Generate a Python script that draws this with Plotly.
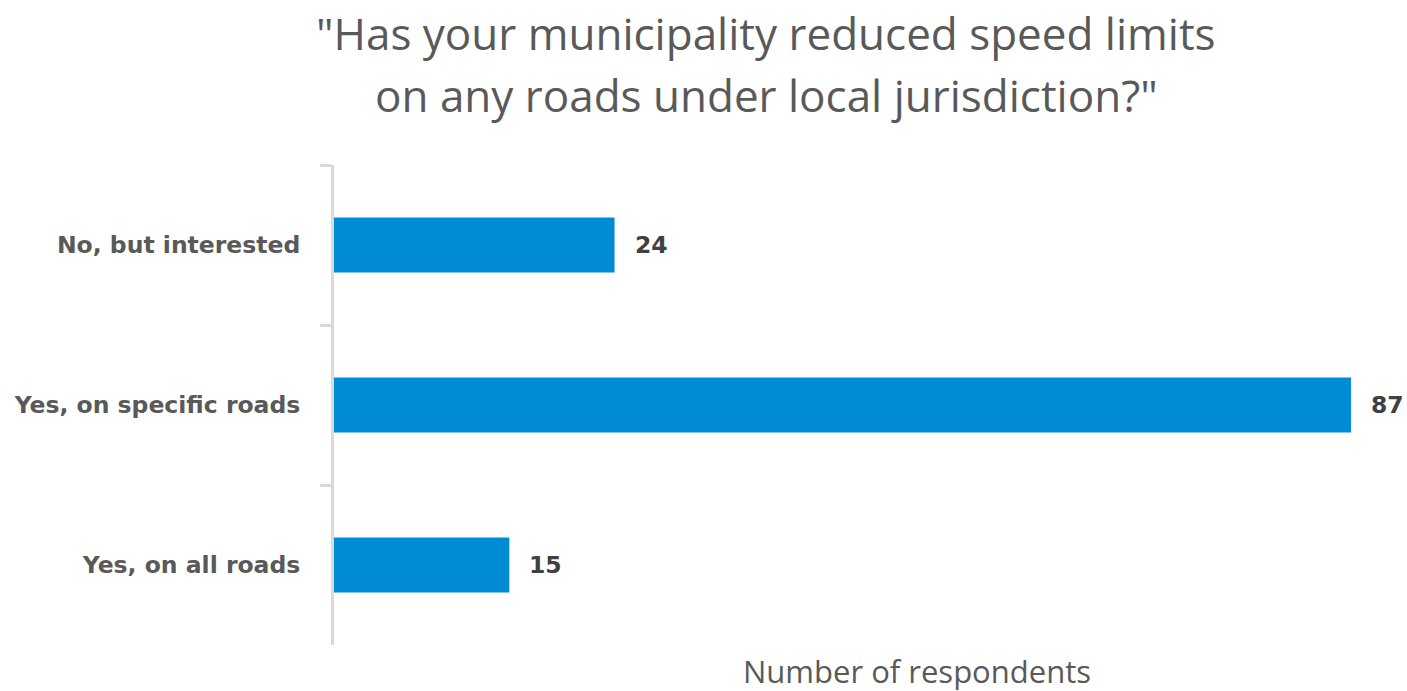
import plotly.graph_objects as go

# Survey answers, listed top to bottom
categories = ["No, but interested", "Yes, on specific roads", "Yes, on all roads"]
respondents = [24, 87, 15]

title_lines = ['"Has your municipality reduced speed limits',
               'on any roads under local jurisdiction?"']
x_title = "Number of respondents"

W, H = 1407, 691
L, R, T, B = 334, 56, 165, 46
PH = H - T - B

fig = go.Figure(
    go.Bar(
        x=respondents,
        y=categories,
        orientation="h",
        marker=dict(color="#008CD4", line=dict(width=0)),
        hoverinfo="skip",
    )
)

fig.update_layout(
    width=W,
    height=H,
    margin=dict(l=L, r=R, t=T, b=B, pad=0),
    paper_bgcolor="white",
    plot_bgcolor="white",
    bargap=0.655,
    showlegend=False,
    font=dict(family="Open Sans", color="#595959"),
)

fig.update_xaxes(
    range=[0, 87],
    showgrid=False,
    zeroline=False,
    showline=False,
    showticklabels=False,
    ticks="",
)

fig.update_yaxes(
    categoryorder="array",
    categoryarray=categories,
    autorange="reversed",
    showgrid=False,
    zeroline=False,
    showline=True,
    linecolor="#D9D9D9",
    linewidth=3,
    ticks="outside",
    tickson="boundaries",
    ticklen=11,
    tickwidth=3,
    tickcolor="#D9D9D9",
    ticklabelstandoff=26,
    tickfont=dict(family="DejaVu Sans", size=23.5, color="#595959", weight="bold"),
)

# Value labels just past the end of each bar
for cat, val in zip(categories, respondents):
    fig.add_annotation(
        x=val, y=cat,
        text=str(val),
        xanchor="left", yanchor="middle",
        xshift=18,
        showarrow=False,
        font=dict(family="DejaVu Sans", size=23.5, color="#404040", weight="bold"),
    )

# Two-line chart heading
for i, line in enumerate(title_lines):
    fig.add_annotation(
        text=line,
        xref="paper", yref="paper",
        x=(766 - L) / (W - L - R),
        y=1 + (T - (33 + 62 * i)) / PH,
        xanchor="center", yanchor="middle",
        showarrow=False,
        font=dict(family="Open Sans", size=44, color="#595959"),
    )

# Axis caption below the plot
fig.add_annotation(
    text=x_title,
    xref="paper", yref="paper",
    x=(917 - L) / (W - L - R),
    y=-(H - 1 - (H - B)) / PH,
    xanchor="center", yanchor="bottom",
    yshift=-4,
    showarrow=False,
    font=dict(family="Open Sans", size=31, color="#595959"),
)

fig.write_html("out.html")
